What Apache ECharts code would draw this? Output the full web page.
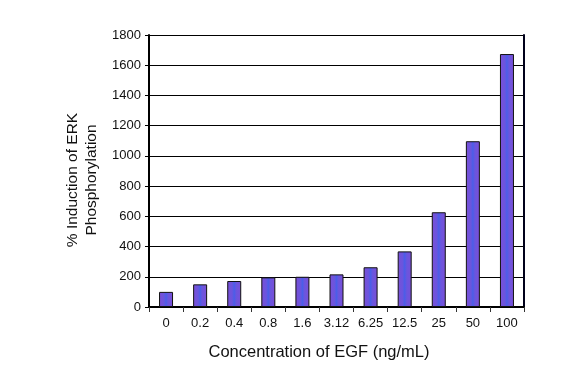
<!DOCTYPE html>
<html>
<head>
<meta charset="utf-8">
<script src="https://cdn.jsdelivr.net/npm/echarts@6/dist/echarts.min.js"></script>
<style>
  html, body { margin: 0; padding: 0; background: #fff; }
  #chart { width: 586px; height: 376px; }
</style>
</head>
<body>
<div id="chart"></div>
<script>
// concentrations of EGF (ng/mL)
var categories = ['0', '0.2', '0.4', '0.8', '1.6', '3.12', '6.25', '12.5', '25', '50', '100'];
// % induction of ERK phosphorylation
var induction = [100, 150, 172, 196, 200, 216, 263, 368, 627, 1097, 1674];

var chart = echarts.init(document.getElementById('chart'));

var barFill = new echarts.graphic.LinearGradient(0, 0, 1, 0, [
    { offset: 0, color: '#7c4fd6' },
    { offset: 0.35, color: '#6a55de' },
    { offset: 0.5, color: '#4a5ee8' },
    { offset: 0.65, color: '#6a55de' },
    { offset: 1, color: '#7c4fd6' }
]);

var option = {
    backgroundColor: '#fff',
    animation: false,
    textStyle: { fontFamily: 'Liberation Sans, Arial, sans-serif' },
    grid: { left: 149, right: 62, top: 35, bottom: 69, containLabel: false },
    xAxis: [{
        type: 'category',
        data: categories,
        axisLine: { lineStyle: { color: '#777', width: 1 } },
        axisTick: { show: true, length: 5, lineStyle: { color: '#333' } },
        axisLabel: { color: '#111', fontSize: 13, margin: 10 }
    }, {
        type: 'category',
        position: 'top',
        data: categories,
        axisLine: { lineStyle: { color: '#000', width: 2 } },
        axisTick: { show: false },
        axisLabel: { show: false }
    }],
    yAxis: [{
        type: 'value',
        min: 0,
        max: 1800,
        interval: 200,
        axisLine: { show: true, lineStyle: { color: '#000', width: 2 } },
        axisTick: { show: true, length: 4, lineStyle: { color: '#000' } },
        axisLabel: { color: '#111', fontSize: 13, margin: 8, formatter: function (v) { return String(v); } },
        splitLine: { lineStyle: { color: '#000', width: 1 } }
    }, {
        type: 'value',
        position: 'right',
        min: 0,
        max: 1800,
        interval: 200,
        axisLine: { show: true, lineStyle: { color: '#00001a', width: 2 } },
        axisTick: { show: false },
        axisLabel: { show: false },
        splitLine: { show: false }
    }],
    graphic: [{
        type: 'text',
        x: 82,
        y: 180,
        rotation: Math.PI / 2,
        style: {
            text: '% Induction of ERK\nPhosphorylation',
            fill: '#111',
            font: '15.5px Liberation Sans, Arial, sans-serif',
            textAlign: 'center',
            textVerticalAlign: 'middle',
            lineHeight: 19
        }
    }, {
        type: 'text',
        x: 319,
        y: 352,
        style: {
            text: 'Concentration of EGF (ng/mL)',
            fill: '#111',
            font: '16.5px Liberation Sans, Arial, sans-serif',
            textAlign: 'center',
            textVerticalAlign: 'middle'
        }
    }],
    series: [{
        name: 'ERK',
        type: 'bar',
        data: induction,
        barWidth: 14,
        itemStyle: { color: barFill, borderColor: '#111', borderWidth: 1 }
    }]
};

chart.setOption(option);
</script>
</body>
</html>
